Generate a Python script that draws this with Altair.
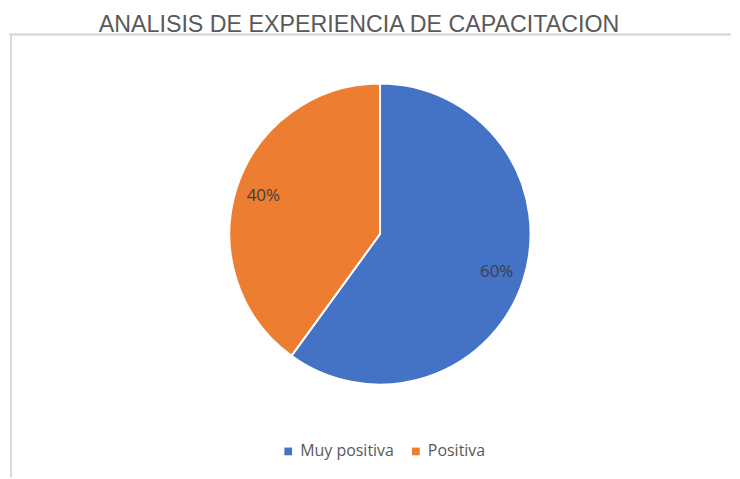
import altair as alt
import pandas as pd

categories = ["Muy positiva", "Positiva"]
values = [60, 40]
labels = ["60%", "40%"]
colors = ["#4472C4", "#ED7D31"]

df = pd.DataFrame({"cat": categories, "val": values, "lab": labels, "ord": [0, 1]})

W, H = 724, 444
cx, cy = 372, 200

base = alt.Chart(df)

pie = base.mark_arc(outerRadius=151, stroke="white", strokeWidth=2).encode(
    theta=alt.Theta("val:Q", stack=True),
    order=alt.Order("ord:Q"),
    color=alt.Color(
        "cat:N",
        scale=alt.Scale(domain=categories, range=colors),
        sort=categories,
        legend=alt.Legend(
            title=None,
            orient="none",
            direction="horizontal",
            legendX=272,
            legendY=410,
            symbolType="square",
            symbolSize=60,
            labelFontSize=16,
            labelColor="#595959",
            labelFont="Open Sans",
            columnPadding=13,
            symbolStrokeWidth=0,
        ),
    ),
    x=alt.value(cx),
    y=alt.value(cy),
)

txt = base.mark_text(radius=123, fontSize=17, color="#404040", font="Open Sans").encode(
    theta=alt.Theta("val:Q", stack=True),
    order=alt.Order("ord:Q"),
    text="lab:N",
    x=alt.value(cx),
    y=alt.value(cy),
)

top_rule = base.mark_rule(color="#d9d9d9", strokeWidth=2).encode(
    x=alt.value(0), x2=alt.value(W), y=alt.value(0)
)
left_rule = base.mark_rule(color="#d9d9d9", strokeWidth=2).encode(
    x=alt.value(2), y=alt.value(0), y2=alt.value(H)
)

chart = alt.layer(top_rule, left_rule, pie, txt).properties(
    width=W,
    height=H,
    padding={"top": 4, "left": 0, "right": 0, "bottom": 0},
    title=alt.Title(
        "ANALISIS DE EXPERIENCIA DE CAPACITACION",
        fontSize=23.3,
        font="Liberation Sans",
        fontWeight="normal",
        color="#595959",
        anchor="middle",
        offset=-4,
        dx=-11,
    ),
).configure_view(stroke=None)

chart.save("out.html", embed_options={"renderer": "svg", "actions": False})
